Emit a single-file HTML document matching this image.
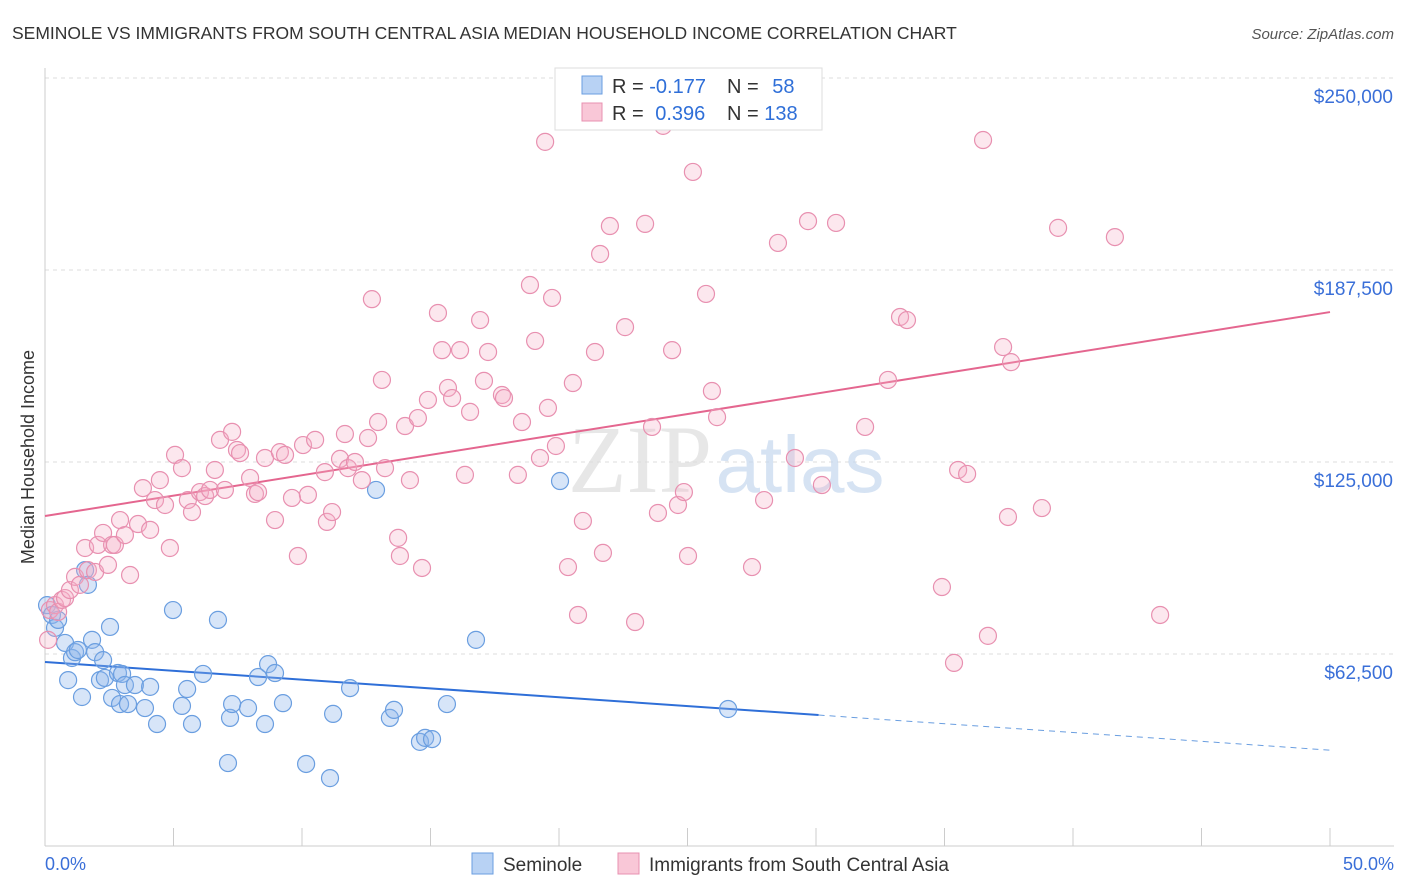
<!DOCTYPE html>
<html><head><meta charset="utf-8"><style>
body{margin:0;background:#fff;font-family:"Liberation Sans",sans-serif}
svg{display:block}
</style></head><body>
<svg id="chart" width="1406" height="892" viewBox="0 0 1406 892">
<text x="12" y="39" font-size="17.5" fill="#333">SEMINOLE VS IMMIGRANTS FROM SOUTH CENTRAL ASIA MEDIAN HOUSEHOLD INCOME CORRELATION CHART</text>
<text x="1394" y="39" font-size="15" fill="#555" font-style="italic" text-anchor="end">Source: ZipAtlas.com</text>
<text transform="translate(34,457) rotate(-90)" font-size="18" fill="#333" text-anchor="middle">Median Household Income</text>
<g id="grid"></g>
<g id="watermark">
<text x="640" y="492" font-size="96" fill="#ddd" font-family="Liberation Serif,serif" text-anchor="middle" opacity="0.7">ZIP</text>
<text x="800" y="492" font-size="80" fill="#c6d8ef" text-anchor="middle" opacity="0.7">atlas</text>
</g>
<g id="axes"></g>
<g id="trend"></g>
<g id="pts"></g>
<g>
<rect x="555" y="68" width="267" height="62" fill="#fff" stroke="#ddd"/>
<rect x="582" y="76" width="20" height="18" fill="#b8d2f4" stroke="#6a9ee0"/>
<rect x="582" y="103" width="20" height="18" fill="#f9c7d7" stroke="#e890b0"/>
<text x="612" y="93" font-size="20" fill="#333">R = <tspan fill="#2f6fd8">-0.177</tspan></text>
<text x="727" y="93" font-size="20" fill="#333">N = <tspan fill="#2f6fd8" dx="8">58</tspan></text>
<text x="612" y="120" font-size="20" fill="#333">R = <tspan fill="#2f6fd8" dx="6">0.396</tspan></text>
<text x="727" y="120" font-size="20" fill="#333">N = <tspan fill="#2f6fd8">138</tspan></text>
</g>
<g>
<rect x="472" y="853" width="21" height="21" fill="#b8d2f4" stroke="#6a9ee0"/>
<text x="503" y="871" font-size="19" fill="#333">Seminole</text>
<rect x="618" y="853" width="21" height="21" fill="#f9c7d7" stroke="#e890b0"/>
<text x="649" y="871" font-size="19" fill="#333">Immigrants from South Central Asia</text>
</g>
</svg>
<script>
const yTicks=[62500,125000,187500,250000];
const yTickLabels=["$62,500","$125,000","$187,500","$250,000"];
const xTicks=[0,5,10,15,20,25,30,35,40,45,50];
const blueX=[0.08,0.27,0.39,0.51,0.78,0.9,1.05,1.17,1.28,1.44,1.56,1.67,1.83,1.95,2.14,2.26,2.33,2.53,2.61,2.84,2.92,3.0,3.11,3.23,3.5,3.89,4.09,4.36,4.98,5.33,5.53,5.72,6.15,6.73,7.12,7.2,7.28,7.9,8.29,8.56,8.68,8.95,9.26,10.16,11.09,11.21,11.87,12.88,13.42,13.58,14.59,14.79,15.06,15.64,16.77,20.04,26.58];
const blueY=[78.4,75.2,71.0,73.6,66.1,54.0,61.2,63.1,63.8,48.5,89.8,85.0,67.1,63.1,54.0,60.5,54.7,71.3,48.2,56.3,46.2,56.0,52.4,46.2,52.4,44.9,51.8,39.7,76.8,45.6,51.1,39.7,56.0,73.6,27.0,41.7,46.2,44.9,55.0,39.7,59.2,56.3,46.5,26.7,22.1,43.0,51.4,115.9,41.7,44.3,33.9,35.2,34.8,46.2,67.1,118.8,44.6];
const pinkX=[0.12,0.19,0.39,0.51,0.66,0.78,0.97,1.17,1.36,1.56,1.67,1.95,2.06,2.26,2.45,2.61,2.72,2.92,3.11,3.31,3.62,3.81,4.09,4.28,4.47,4.67,4.86,5.06,5.33,5.56,5.72,6.03,6.23,6.42,6.61,6.81,7.0,7.28,7.47,7.59,7.98,8.17,8.29,8.56,8.95,9.14,9.34,9.61,9.84,10.04,10.23,10.51,10.89,10.97,11.17,11.48,11.67,11.79,12.06,12.33,12.57,12.72,12.96,13.11,13.23,13.74,13.81,14.01,14.2,14.51,14.67,14.9,15.29,15.45,15.68,15.84,16.15,16.34,16.54,16.93,17.08,17.24,17.78,17.86,18.4,18.56,18.87,19.07,19.26,19.57,19.73,19.88,20.35,20.54,20.74,20.93,21.4,21.6,21.71,21.98,22.57,22.96,23.35,23.62,23.85,24.05,24.4,24.63,24.86,25.02,25.21,25.72,25.95,26.15,27.51,27.98,28.52,29.18,29.69,30.23,30.78,31.91,32.8,33.27,33.54,34.9,35.37,35.53,35.88,36.5,36.69,37.28,37.47,37.59,38.79,39.42,41.63,43.39,19.46];
const pinkY=[67.1,76.8,78.4,76.2,80.1,80.7,83.3,87.6,85.0,97.0,89.8,89.2,98.0,101.9,91.5,98.0,98.0,106.1,101.2,88.2,104.8,116.5,102.9,112.6,119.1,111.0,97.0,127.3,123.0,112.6,108.7,115.2,113.9,115.9,122.4,132.2,115.9,134.8,128.9,127.9,119.8,114.6,115.2,126.3,106.1,128.2,127.3,113.3,94.4,130.5,114.3,132.2,121.7,105.5,108.7,126.0,134.1,123.0,125.0,119.1,132.8,178.0,138.0,151.7,123.0,100.3,94.4,136.7,119.1,139.3,90.5,145.2,173.5,161.4,149.1,145.8,161.4,120.8,141.3,171.2,151.4,160.8,146.8,145.8,120.8,138.0,182.6,164.4,126.3,142.6,178.4,130.2,90.8,150.7,75.2,105.8,160.8,192.7,95.4,201.8,168.9,72.9,202.5,136.4,108.4,234.4,161.4,111.0,115.2,94.4,219.4,179.7,148.1,139.6,90.8,112.6,196.3,126.3,203.4,117.5,202.8,136.4,151.7,172.2,171.2,84.3,59.6,122.4,121.1,229.8,68.4,162.4,107.1,157.5,110.0,201.2,198.2,75.2,229.2];
const blueTrend=[59.9,31.2];
const pinkTrend=[107.4,173.8];
const NS="http://www.w3.org/2000/svg";
const X=p=>45+p*25.7;
const Y=k=>846-k*1000/325.5;
function mk(tag,attrs,parent){const e=document.createElementNS(NS,tag);for(const k in attrs)e.setAttribute(k,attrs[k]);document.getElementById(parent).appendChild(e);return e;}
mk('line',{x1:45,y1:Y(250),x2:1394,y2:Y(250),stroke:'#ddd','stroke-dasharray':'4,4'},'grid');
yTicks.forEach((v,i)=>{
 const l=mk('line',{x1:45,y1:Y(v/1000),x2:1394,y2:Y(v/1000),stroke:'#ddd','stroke-dasharray':'4,4'},'grid');
 
 
 const t=mk('text',{x:1393,y:Y(v/1000)+25,'font-size':19,fill:'#3a6fd8','text-anchor':'end'},'grid');
 t.textContent=yTickLabels[i];
 
 
});
mk('line',{x1:45,y1:68,x2:45,y2:846,stroke:'#ccc'},'axes');
mk('line',{x1:45,y1:846,x2:1394,y2:846,stroke:'#ccc'},'axes');
xTicks.forEach(v=>{const l=mk('line',{x1:X(v),y1:828,x2:X(v),y2:846,stroke:'#ccc'},'axes');
 
 });
const x0=mk('text',{x:45,y:870,'font-size':18,fill:'#3a6fd8'},'axes');x0.textContent=xTicks[0].toFixed(1)+'%';


const x1=mk('text',{x:1394,y:870,'font-size':18,fill:'#3a6fd8','text-anchor':'end'},'axes');x1.textContent=xTicks[xTicks.length-1].toFixed(1)+'%';


const bAt=p=>blueTrend[0]+(blueTrend[1]-blueTrend[0])*p/50;
let t1=mk('line',{x1:X(0),y1:Y(bAt(0)),x2:X(30.1),y2:Y(bAt(30.1)),stroke:'#2f6fd8','stroke-width':2},'trend');


let t2=mk('line',{x1:X(30.1),y1:Y(bAt(30.1)),x2:X(50),y2:Y(bAt(50)),stroke:'#6a9ee0','stroke-width':1,'stroke-dasharray':'6,5'},'trend');


blueX.forEach((x,i)=>{const c=mk('circle',{cx:X(x),cy:Y(blueY[i]),r:8.5,fill:'rgba(140,180,235,0.35)',stroke:'#6a9ee0','stroke-width':1.2},'pts');
 
 });
pinkX.forEach((x,i)=>{const c=mk('circle',{cx:X(x),cy:Y(pinkY[i]),r:8.5,fill:'rgba(245,175,200,0.3)',stroke:'#e890b0','stroke-width':1.2},'pts');
 
 });
let t3=mk('line',{x1:X(0),y1:Y(pinkTrend[0]),x2:X(50),y2:Y(pinkTrend[1]),stroke:'#e4668f','stroke-width':2},'trend');


</script>
</body></html>
